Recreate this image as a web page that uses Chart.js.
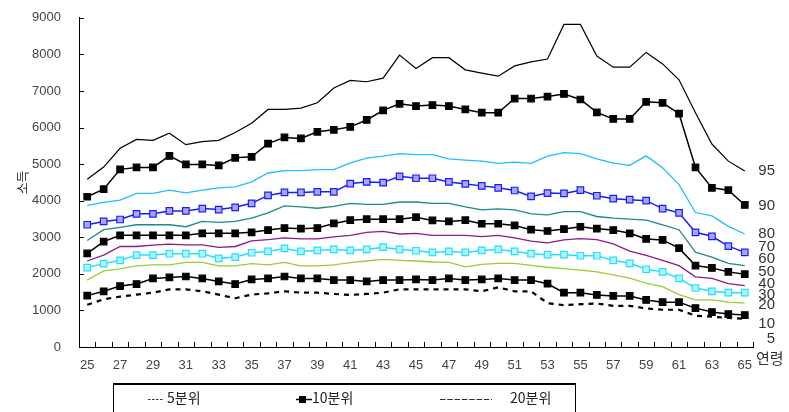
<!DOCTYPE html>
<html>
<head>
<meta charset="utf-8">
<script src="https://cdn.jsdelivr.net/npm/chart.js@4.4.1/dist/chart.umd.min.js"></script>
<style>
  html, body { margin: 0; padding: 0; background: #fff; overflow: hidden; }
  #chart { display: block; }
</style>
</head>
<body>
<canvas id="chart" width="789" height="412"></canvas>
<script>
// ages 25..65
const ages = [];
for (let a = 25; a <= 65; a++) ages.push(a);

const yTicks = [0, 1000, 2000, 3000, 4000, 5000, 6000, 7000, 8000, 9000];

// income by percentile
const p95 = [4585, 4919, 5432, 5676, 5649, 5846, 5532, 5613, 5649, 5865, 6117, 6495, 6495, 6532,
  6676, 7081, 7288, 7252, 7351, 7982, 7613, 7910, 7910, 7577, 7486, 7405, 7685, 7793, 7874,
  8820, 8820, 7955, 7649, 7649, 8054, 7739, 7306, 6405, 5549, 5081, 4811];
const p90 = [4108, 4315, 4856, 4910, 4910, 5225, 4991, 4991, 4964, 5171, 5198, 5559, 5730, 5703,
  5883, 5937, 6018, 6207, 6468, 6649, 6586, 6613, 6586, 6495, 6405, 6405, 6793, 6793, 6847,
  6919, 6766, 6414, 6234, 6234, 6703, 6676, 6378, 4910, 4351, 4288, 3883];
const p80 = [3874, 3955, 4018, 4198, 4198, 4288, 4216, 4288, 4351, 4378, 4514, 4757, 4820, 4820,
  4847, 4847, 5036, 5162, 5216, 5288, 5261, 5261, 5144, 5108, 5081, 5018, 5054, 5018, 5216,
  5315, 5288, 5144, 5027, 4964, 5225, 4901, 4441, 3676, 3586, 3297, 3090];
const p70 = [3342, 3432, 3486, 3640, 3640, 3721, 3721, 3784, 3757, 3819, 3928, 4144, 4225, 4225,
  4243, 4243, 4468, 4514, 4495, 4667, 4613, 4613, 4514, 4459, 4405, 4351, 4279, 4117, 4207,
  4198, 4288, 4135, 4054, 4027, 4000, 3784, 3667, 3135, 3027, 2757, 2586];
const p60 = [2910, 3207, 3270, 3342, 3342, 3342, 3288, 3432, 3405, 3432, 3522, 3667, 3856, 3829,
  3793, 3847, 3928, 3901, 3901, 3964, 3964, 3928, 3928, 3829, 3748, 3775, 3748, 3640, 3613,
  3703, 3703, 3568, 3522, 3495, 3468, 3342, 3207, 2595, 2459, 2288, 2225];
const p50 = [2559, 2883, 3054, 3054, 3054, 3054, 3054, 3108, 3108, 3108, 3135, 3198, 3252, 3234,
  3252, 3378, 3468, 3495, 3495, 3495, 3550, 3459, 3432, 3468, 3369, 3369, 3324, 3207, 3171,
  3225, 3288, 3234, 3198, 3108, 2955, 2928, 2703, 2225, 2162, 2054, 1991];
const p40 = [2351, 2514, 2748, 2748, 2784, 2811, 2793, 2793, 2721, 2748, 2901, 2937, 2982, 2955,
  2955, 3009, 3054, 3135, 3162, 3090, 3108, 3054, 3054, 3054, 3018, 3054, 2982, 2892, 2847,
  2928, 2964, 2937, 2820, 2622, 2505, 2369, 2225, 1919, 1874, 1730, 1676];
const p30 = [2171, 2279, 2369, 2514, 2514, 2550, 2550, 2550, 2423, 2459, 2577, 2613, 2694, 2613,
  2640, 2667, 2640, 2667, 2730, 2667, 2631, 2586, 2613, 2586, 2640, 2667, 2613, 2550, 2523,
  2523, 2495, 2495, 2369, 2288, 2126, 2054, 1874, 1613, 1523, 1486, 1486];
const p20 = [1829, 2081, 2135, 2216, 2243, 2243, 2315, 2315, 2216, 2216, 2279, 2243, 2315, 2216,
  2216, 2243, 2306, 2351, 2396, 2369, 2351, 2324, 2315, 2189, 2261, 2288, 2288, 2234, 2180,
  2144, 2099, 2054, 1973, 1883, 1748, 1649, 1432, 1288, 1288, 1225, 1198];
const p10 = [1405, 1523, 1667, 1721, 1874, 1901, 1928, 1874, 1793, 1721, 1847, 1874, 1928, 1874,
  1874, 1829, 1829, 1793, 1829, 1829, 1847, 1829, 1874, 1829, 1847, 1874, 1829, 1829, 1730,
  1486, 1486, 1423, 1396, 1396, 1288, 1225, 1225, 1063, 955, 901, 874];
const p5 = [1153, 1306, 1378, 1432, 1486, 1577, 1577, 1523, 1432, 1333, 1432, 1468, 1523, 1486,
  1486, 1450, 1423, 1450, 1486, 1577, 1577, 1577, 1577, 1577, 1523, 1630, 1523, 1523, 1198,
  1144, 1171, 1189, 1126, 1126, 1054, 1018, 1018, 856, 829, 793, 775];

// labels at the right end of the lines
const endLabels = ["95", "90", "80", "70", "60", "50", "40", "30", "20", "10", "5"];
const endLabelAt = [4811, 3865, 3090, 2730, 2405, 2062, 1721, 1423, 1141, 622, 216];

function plain(label, data, color, width) {
  return { label, data, borderColor: color, borderWidth: width, pointRadius: 0, tension: 0 };
}
function marked(label, data, color, fill) {
  return {
    label, data, borderColor: color, borderWidth: 1.5, tension: 0,
    pointStyle: "rect", pointRadius: 4.6, pointHoverRadius: 4.6,
    pointBackgroundColor: fill, pointBorderColor: color, pointBorderWidth: 1.2
  };
}

const datasets = [
  Object.assign(plain("5분위", p5, "#000", 2.2), { borderDash: [5, 5] }),
  marked("10분위", p10, "#000", "#000"),
  plain("20분위", p20, "#9acd32", 1.3),
  marked("30분위", p30, "#22e0ff", "#b8f4ff"),
  plain("40분위", p40, "#8b1a8b", 1.3),
  marked("50분위", p50, "#000", "#000"),
  plain("60분위", p60, "#1a8a8a", 1.3),
  marked("70분위", p70, "#1a1aff", "#a8a8ff"),
  plain("80분위", p80, "#1ebeff", 1.3),
  marked("90분위", p90, "#000", "#000"),
  plain("95분위", p95, "#000", 1.2)
];

const FONT = "'Liberation Sans', Arial, sans-serif";
const KFONT = "'Noto Sans CJK KR', sans-serif";

const decorPlugin = {
  id: "decor",
  afterDraw(chart) {
    const ctx = chart.ctx;
    const xs = chart.scales.x, ys = chart.scales.y;
    const area = chart.chartArea;
    ctx.save();
    // inward tick marks
    ctx.strokeStyle = "#000";
    ctx.lineWidth = 1;
    const half = (xs.getPixelForValue(1) - xs.getPixelForValue(0)) / 2;
    ctx.beginPath();
    for (let i = 0; i < ages.length; i++) {
      const x = Math.round(xs.getPixelForValue(i) + half) + 0.5;
      ctx.moveTo(x, area.bottom);
      ctx.lineTo(x, area.bottom - 5);
    }
    yTicks.forEach(v => {
      const y = Math.round(ys.getPixelForValue(v)) + 0.5;
      ctx.moveTo(area.left, y);
      ctx.lineTo(area.left + 5, y);
    });
    ctx.stroke();

    // percentile labels at the right
    ctx.fillStyle = "#333";
    ctx.font = "15px " + FONT;
    ctx.textAlign = "right";
    ctx.textBaseline = "middle";
    endLabels.forEach((t, i) => ctx.fillText(t, 775, ys.getPixelForValue(endLabelAt[i])));

    // axis name for ages
    ctx.textAlign = "left";
    ctx.font = "15px " + KFONT;
    ctx.fillText("연령", 756, area.bottom + 11);

    // legend box (cut by the bottom edge)
    ctx.strokeStyle = "#000";
    ctx.lineWidth = 1;
    ctx.beginPath();
    ctx.moveTo(113.5, 420); ctx.lineTo(113.5, 383.5);
    ctx.lineTo(575.5, 383.5); ctx.lineTo(575.5, 420);
    ctx.stroke();
    ctx.lineWidth = 2;
    ctx.beginPath(); ctx.moveTo(113, 384); ctx.lineTo(576, 384); ctx.stroke();

    const ly = 399;
    ctx.lineWidth = 1;
    ctx.strokeStyle = "#333";
    ctx.setLineDash([2.5, 1.5]);
    ctx.beginPath(); ctx.moveTo(148, ly + 0.5); ctx.lineTo(164, ly + 0.5); ctx.stroke();
    ctx.setLineDash([5.5, 1.8]);
    ctx.beginPath(); ctx.moveTo(440, ly + 0.5); ctx.lineTo(492, ly + 0.5); ctx.stroke();
    ctx.setLineDash([]);
    ctx.strokeStyle = "#000";
    ctx.lineWidth = 1.5;
    ctx.beginPath(); ctx.moveTo(296, ly + 0.5); ctx.lineTo(312, ly + 0.5); ctx.stroke();
    ctx.fillStyle = "#000";
    ctx.fillRect(299, ly - 3, 7, 7);

    ctx.fillStyle = "#222";
    ctx.font = "14px " + KFONT;
    ctx.textBaseline = "middle";
    ctx.fillText("5분위", 167, ly - 1);
    ctx.fillText("10분위", 312, ly - 1);
    ctx.fillText("20분위", 510, ly - 1);
    ctx.restore();
  }
};

new Chart(document.getElementById("chart"), {
  type: "line",
  data: { labels: ages, datasets },
  options: {
    responsive: false,
    animation: false,
    layout: { padding: { top: 14, right: 36, left: 0, bottom: 0 } },
    plugins: { legend: { display: false }, tooltip: { enabled: false } },
    scales: {
      x: {
        offset: true,
        grid: { display: false },
        border: { display: true, color: "#000", width: 1 },
        ticks: {
          autoSkip: false, maxRotation: 0, padding: 3,
          color: "#444", font: { family: FONT, size: 13 },
          callback: (v, i) => (ages[i] % 2 === 1 ? String(ages[i]) : "")
        },
        afterFit: s => { s.height = 65; }
      },
      y: {
        min: 0, max: 9000,
        grid: { display: false },
        border: { display: true, color: "#000", width: 1 },
        afterBuildTicks: s => { s.ticks = yTicks.map(v => ({ value: v })); },
        ticks: {
          padding: 10, color: "#444", font: { family: FONT, size: 13 },
          callback: v => String(v)
        },
        title: {
          display: true, text: "소득", color: "#333",
          font: { family: KFONT, size: 13 }, padding: { top: 14, bottom: 0 }
        },
        afterFit: s => { s.width = 79; }
      }
    }
  },
  plugins: [decorPlugin]
});
</script>
</body>
</html>
